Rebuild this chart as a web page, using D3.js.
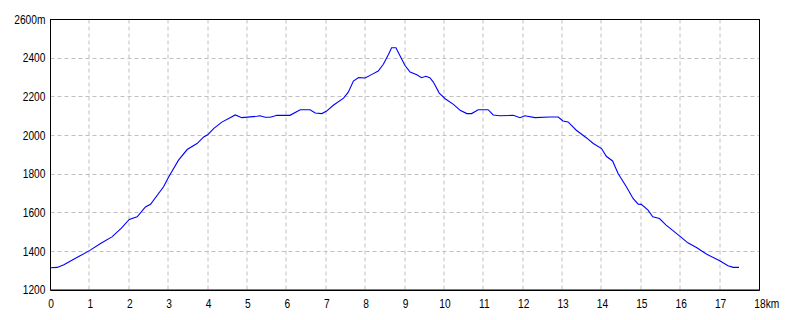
<!DOCTYPE html>
<html>
<head>
<meta charset="utf-8">
<script src="https://cdn.jsdelivr.net/npm/d3@7"></script>
<style>
body { margin: 0; background: #fff; }
text { font-family: "Liberation Sans Narrow", "Liberation Sans", Arial, sans-serif; font-size: 12px; fill: #000; }
</style>
</head>
<body>
<script>
// distance (km) / elevation (m)
var distKm = [0, 0.17, 0.34, 0.68, 1.0, 1.27, 1.56, 1.8, 2.0, 2.2, 2.41, 2.54, 2.87, 3.0, 3.25, 3.47, 3.72, 3.89, 3.99, 4.14,
	4.35, 4.56, 4.69, 4.86, 5.24, 5.32, 5.45, 5.58, 5.75, 6.08, 6.34, 6.59, 6.72, 6.89, 7.01, 7.18, 7.44, 7.56, 7.69, 7.82,
	7.99, 8.16, 8.32, 8.45, 8.58, 8.66, 8.77, 8.87, 9.0, 9.13, 9.3, 9.42, 9.53, 9.63, 9.72, 9.87, 10.02, 10.23, 10.4, 10.57,
	10.69, 10.86, 11.11, 11.24, 11.41, 11.75, 11.92, 12.04, 12.3, 12.68, 12.89, 13.01, 13.14, 13.35, 13.61, 13.78, 13.99, 14.11, 14.27, 14.41,
	14.62, 14.79, 14.92, 15.0, 15.17, 15.29, 15.46, 15.63, 16.0, 16.18, 16.4, 16.65, 16.99, 17.2, 17.33, 17.48];
var elevM = [1315, 1317, 1331, 1369, 1405, 1441, 1475, 1520, 1565, 1579, 1630, 1644, 1734, 1785, 1872, 1927, 1958, 1992, 2003, 2035,
	2069, 2092, 2106, 2092, 2099, 2102, 2094, 2094, 2104, 2104, 2133, 2133, 2116, 2113, 2126, 2156, 2193, 2224, 2281, 2299,
	2297, 2316, 2333, 2368, 2419, 2454, 2454, 2414, 2362, 2328, 2314, 2299, 2306, 2299, 2276, 2219, 2190, 2161, 2130, 2113,
	2113, 2133, 2133, 2106, 2102, 2104, 2092, 2102, 2092, 2095, 2095, 2075, 2070, 2027, 1987, 1958, 1932, 1892, 1868, 1803,
	1734, 1674, 1644, 1643, 1613, 1579, 1570, 1536, 1475, 1444, 1420, 1386, 1351, 1326, 1317, 1317];

var xTicks = d3.range(0, 19, 1);
var yTicks = [1200, 1400, 1600, 1800, 2000, 2200, 2400, 2600];

var margin = {top: 19.5, right: 40.5, bottom: 30, left: 50.5};
var width = 800 - margin.left - margin.right;
var height = 320 - margin.top - margin.bottom;

var x = d3.scaleLinear().domain([0, 18]).range([0, width]);
var y = d3.scaleLinear().domain([1200, 2600]).range([height, 0]);

var svg = d3.select("body").append("svg")
	.attr("width", 800)
	.attr("height", 320)
	.append("g")
	.attr("transform", "translate(" + margin.left + "," + margin.top + ")");

// grid
svg.append("g").selectAll("line")
	.data(xTicks.slice(1, -1))
	.enter().append("line")
	.attr("x1", function(d){ return Math.round(x(d)) - 0.5; })
	.attr("x2", function(d){ return Math.round(x(d)) - 0.5; })
	.attr("y1", 0).attr("y2", height)
	.attr("stroke", "#c0c0c0")
	.attr("stroke-dasharray", "4,3");

svg.append("g").selectAll("line")
	.data(yTicks.slice(1, -1))
	.enter().append("line")
	.attr("y1", function(d){ return Math.round(y(d)); })
	.attr("y2", function(d){ return Math.round(y(d)); })
	.attr("x1", 0).attr("x2", width)
	.attr("stroke", "#c0c0c0")
	.attr("stroke-dasharray", "4,3");

// frame
svg.append("rect")
	.attr("width", width).attr("height", height)
	.attr("fill", "none").attr("stroke", "#000");
svg.append("line")
	.attr("x1", 0).attr("x2", width)
	.attr("y1", height + 0.5).attr("y2", height + 0.5)
	.attr("stroke", "#000");

// axes (labels only), narrowed to look like the original bitmap font
var xAxis = svg.append("g")
	.attr("transform", "translate(0," + height + ")")
	.call(d3.axisBottom(x).tickValues(xTicks).tickSize(0).tickPadding(9).tickFormat(d3.format("d")));
xAxis.select(".domain").remove();
xAxis.selectAll("text").attr("font-family", null).attr("font-size", null);
var last = xAxis.selectAll(".tick").filter(function(d){ return d === 18; }).select("text");
var w18 = last.node().getComputedTextLength();
last.attr("text-anchor", "start").attr("x", -w18 / 2).append("tspan").text("km");
xAxis.selectAll("text").attr("transform", "scale(0.85,1)");

var yAxis = svg.append("g")
	.call(d3.axisLeft(y).tickValues(yTicks).tickSize(0).tickPadding(6)
		.tickFormat(function(d){ return d === 2600 ? d + "m" : d; }));
yAxis.select(".domain").remove();
yAxis.selectAll("text").attr("font-family", null).attr("font-size", null)
	.attr("transform", "scale(0.85,1)");

// profile
var line = d3.line()
	.x(function(d, i){ return x(distKm[i]); })
	.y(function(d){ return y(d); });

svg.append("path")
	.datum(elevM)
	.attr("d", line)
	.attr("fill", "none")
	.attr("stroke", "#0000ff")
	.attr("stroke-width", 1.1);
</script>
</body>
</html>
